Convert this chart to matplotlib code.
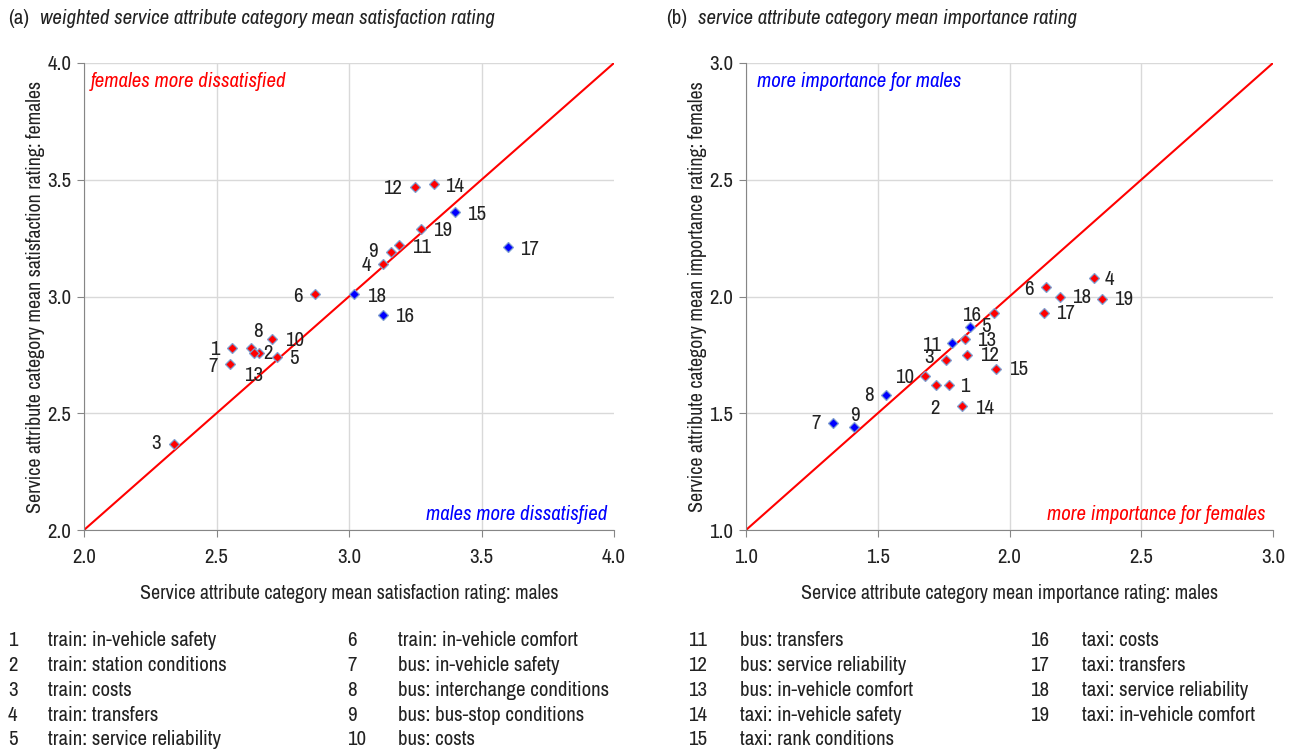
import matplotlib
matplotlib.use('Agg')
import matplotlib.pyplot as plt

# narrow sans, close to the Arial Narrow of the original
plt.rcParams['font.family'] = ['Archivo Narrow', 'Roboto Condensed', 'DejaVu Sans']

# attribute numbers 1..19
ids = list(range(1, 20))

# (a) satisfaction: males vs females
sat_males = [2.56, 2.66, 2.34, 3.13, 2.73, 2.87, 2.55, 2.63, 3.16, 2.71,
             3.19, 3.25, 2.64, 3.32, 3.40, 3.13, 3.60, 3.02, 3.27]
sat_females = [2.78, 2.76, 2.37, 3.14, 2.74, 3.01, 2.71, 2.78, 3.19, 2.82,
               3.22, 3.47, 2.76, 3.48, 3.36, 2.92, 3.21, 3.01, 3.29]
sat_blue = [15, 16, 17, 18]

# (b) importance: males vs females
imp_males = [1.77, 1.72, 1.76, 2.32, 1.85, 2.14, 1.33, 1.53, 1.41, 1.68,
             1.78, 1.84, 1.83, 1.82, 1.95, 1.94, 2.13, 2.19, 2.35]
imp_females = [1.62, 1.62, 1.73, 2.08, 1.87, 2.04, 1.46, 1.58, 1.44, 1.66,
               1.80, 1.75, 1.82, 1.53, 1.69, 1.93, 1.93, 2.00, 1.99]
imp_blue = [5, 7, 8, 9, 11]

legend_labels = [
    "train: in-vehicle safety", "train: station conditions", "train: costs",
    "train: transfers", "train: service reliability", "train: in-vehicle comfort",
    "bus: in-vehicle safety", "bus: interchange conditions", "bus: bus-stop conditions",
    "bus: costs", "bus: transfers", "bus: service reliability",
    "bus: in-vehicle comfort", "taxi: in-vehicle safety", "taxi: rank conditions",
    "taxi: costs", "taxi: transfers", "taxi: service reliability",
    "taxi: in-vehicle comfort",
]

# label offsets in pixels (dx, dy) for the point numbers
sat_offsets = {1: (-18, -2), 2: (9, -1), 3: (-18, 0), 4: (-17, -2), 5: (16, -1),
               6: (-17, -2), 7: (-17, -2), 8: (7, 16), 9: (-18, 1), 10: (22, -2),
               11: (22, -2), 12: (-23, -2), 13: (0, -23), 14: (21, -2), 15: (22, -2),
               16: (21, -1), 17: (22, -2), 18: (22, -2), 19: (22, -2)}
imp_offsets = {1: (16, -1), 2: (-1, -23), 3: (-17, 2), 4: (16, -2), 5: (16, 0),
               6: (-17, -2), 7: (-17, -1), 8: (-17, -1), 9: (1, 12), 10: (-21, -2),
               11: (-20, -2), 12: (22, -1), 13: (22, -2), 14: (22, -2), 15: (22, -1),
               16: (-22, -3), 17: (22, -1), 18: (22, -1), 19: (22, -1)}

FS = 15
FS_AX = 14.3
GREY = '#868686'
EDGE = '#7f9fd0'
INK = '#222222'

fig = plt.figure(figsize=(12.94, 7.51), dpi=100)
ax1 = fig.add_axes([84 / 1294, 1 - 530 / 751, 530 / 1294, 467 / 751])
ax2 = fig.add_axes([746 / 1294, 1 - 530 / 751, 527 / 1294, 467 / 751])


def draw_panel(ax, xs, ys, blue, offsets, lim, xlabel, ylabel):
    lo, hi = lim
    ax.set_xlim(lo, hi)
    ax.set_ylim(lo, hi)
    ticks = [lo + 0.5 * i for i in range(int((hi - lo) / 0.5) + 1)]
    ax.set_xticks(ticks)
    ax.set_yticks(ticks)
    ax.set_xticklabels([f"{t:.1f}" for t in ticks])
    ax.set_yticklabels([f"{t:.1f}" for t in ticks])
    ax.grid(True, color='#d9d9d9', lw=1)
    ax.get_xgridlines()[-1].set_visible(False)
    ax.set_axisbelow(True)
    for s in ['top', 'right']:
        ax.spines[s].set_visible(False)
    for s in ['left', 'bottom']:
        ax.spines[s].set_color(GREY)
    ax.tick_params(colors=GREY, labelcolor=INK, labelsize=FS, length=5)
    ax.tick_params(axis='x', pad=8)
    ax.tick_params(axis='y', pad=4)
    ax.plot([lo, hi], [lo, hi], color='red', lw=1.5, zorder=2)
    for i, x, y in zip(ids, xs, ys):
        c = 'blue' if i in blue else 'red'
        ax.plot(x, y, 'D', color=c, ms=5.3, mec=EDGE, mew=0.9, zorder=3)
        ax.annotate(str(i), (x, y), xytext=offsets[i], textcoords='offset pixels',
                    ha='center', va='center', fontsize=FS, color=INK)
    ax.set_xlabel(xlabel, fontsize=FS_AX, color=INK, labelpad=12)
    ax.set_ylabel(ylabel, fontsize=FS_AX, color=INK, labelpad=2)


draw_panel(ax1, sat_males, sat_females, sat_blue, sat_offsets, (2.0, 4.0),
           "Service attribute category mean satisfaction rating: males",
           "Service attribute category mean satisfaction rating: females")
draw_panel(ax2, imp_males, imp_females, imp_blue, imp_offsets, (1.0, 3.0),
           "Service attribute category mean importance rating: males",
           "Service attribute category mean importance rating: females")

ax1.text(0.013, 0.96, "females more dissatisfied", transform=ax1.transAxes,
         color='red', style='italic', fontsize=FS, va='center')
ax1.text(0.987, 0.033, "males more dissatisfied", transform=ax1.transAxes,
         color='blue', style='italic', fontsize=FS, va='center', ha='right')
ax2.text(0.02, 0.96, "more importance for males", transform=ax2.transAxes,
         color='blue', style='italic', fontsize=FS, va='center')
ax2.text(0.985, 0.033, "more importance for females", transform=ax2.transAxes,
         color='red', style='italic', fontsize=FS, va='center', ha='right')

# panel titles
ty = 1 - 18 / 751
fig.text(8 / 1294, ty, "(a)", fontsize=FS, va='center', color=INK)
fig.text(40 / 1294, ty, "weighted service attribute category mean satisfaction rating",
         fontsize=FS, style='italic', va='center', color=INK)
fig.text(666 / 1294, ty, "(b)", fontsize=FS, va='center', color=INK)
fig.text(698 / 1294, ty, "service attribute category mean importance rating",
         fontsize=FS, style='italic', va='center', color=INK)

# key below the charts
num_x = [8, 347, 688, 1030]
txt_x = [48, 398, 740, 1082]
row_y = [641, 665.7, 690.4, 715.1, 739.8]
for k, lab in enumerate(legend_labels):
    col, row = divmod(k, 5)
    fig.text(num_x[col] / 1294, 1 - row_y[row] / 751, str(k + 1), fontsize=FS,
             va='center', color=INK)
    fig.text(txt_x[col] / 1294, 1 - row_y[row] / 751, lab, fontsize=FS,
             va='center', color=INK)

fig.savefig('out.png', dpi=100)
